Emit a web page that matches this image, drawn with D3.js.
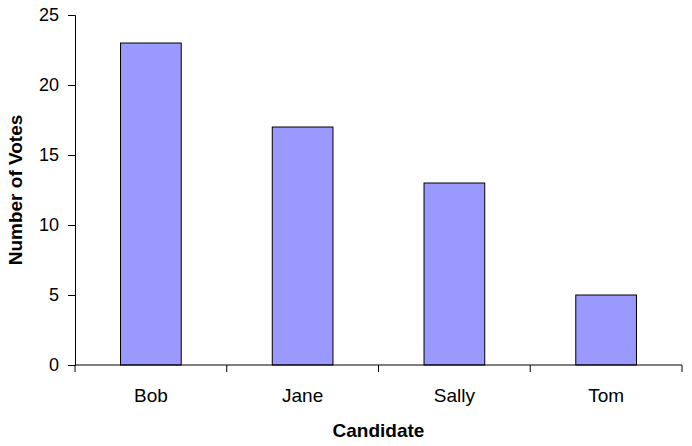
<!DOCTYPE html>
<html>
<head>
<meta charset="utf-8">
<script src="https://cdn.jsdelivr.net/npm/d3@7"></script>
<style>
  html, body { margin: 0; padding: 0; background: #fff; }
  svg { display: block; }
  text { font-family: "Liberation Sans", Arial, sans-serif; fill: #000; }
</style>
</head>
<body>
<svg id="chart" width="692" height="446"></svg>
<script>
const categories = ["Bob", "Jane", "Sally", "Tom"];
const votes = [23, 17, 13, 5];
const yTicks = [0, 5, 10, 15, 20, 25];
const xTitle = "Candidate";
const yTitle = "Number of Votes";

(function () {
const svg = d3.select("#chart");
const mLeft = 75, mRight = 682, mTop = 15, mBottom = 365;
const fontFam = "'Liberation Sans', Arial, sans-serif";

const xb = d3.scaleBand().domain(categories).range([mLeft, mRight]);
const y = d3.scaleLinear().domain([0, 25]).range([mBottom, mTop]);

// bars
svg.append("g").selectAll("rect")
  .data(categories.map((c, i) => ({c, v: votes[i]})))
  .join("rect")
  .attr("x", d => xb(d.c) + xb.bandwidth() / 2 - xb.bandwidth() * 0.2)
  .attr("width", xb.bandwidth() * 0.4)
  .attr("y", d => y(d.v))
  .attr("height", d => y(0) - y(d.v))
  .attr("fill", "#9999ff")
  .attr("stroke", "#000")
  .attr("stroke-width", 1);

// y axis
const yAxis = svg.append("g").attr("transform", `translate(${mLeft},0)`)
  .call(d3.axisLeft(y).tickValues(yTicks).tickSize(7).tickPadding(9).tickFormat(d3.format("d")));
yAxis.select(".domain").attr("stroke", "#000");
yAxis.selectAll("line").attr("stroke", "#000");
yAxis.selectAll("text").style("font-size", "18px").style("font-family", fontFam);

// x axis
const xAxisG = svg.append("g").attr("transform", `translate(0,${mBottom})`);
xAxisG.append("line").attr("x1", mLeft).attr("x2", mRight).attr("stroke", "#000");
const boundaries = [mLeft, ...categories.map(c => xb(c) + xb.bandwidth())];
xAxisG.selectAll("line.tick").data(boundaries).join("line")
  .attr("class", "tick")
  .attr("x1", d => d).attr("x2", d => d)
  .attr("y1", 0).attr("y2", 7)
  .attr("stroke", "#000");
xAxisG.selectAll("text").data(categories).join("text")
  .attr("x", d => xb(d) + xb.bandwidth() / 2)
  .attr("y", 37)
  .attr("text-anchor", "middle")
  .style("font-size", "19px")
  .text(d => d);

// titles
svg.append("text")
  .attr("x", (mLeft + mRight) / 2)
  .attr("y", 437)
  .attr("text-anchor", "middle")
  .style("font-size", "19px")
  .style("font-weight", "bold")
  .text(xTitle);

svg.append("text")
  .attr("transform", `translate(22,${(mTop + mBottom) / 2}) rotate(-90)`)
  .attr("text-anchor", "middle")
  .style("font-size", "19px")
  .style("font-weight", "bold")
  .text(yTitle);
})();
</script>
</body>
</html>
